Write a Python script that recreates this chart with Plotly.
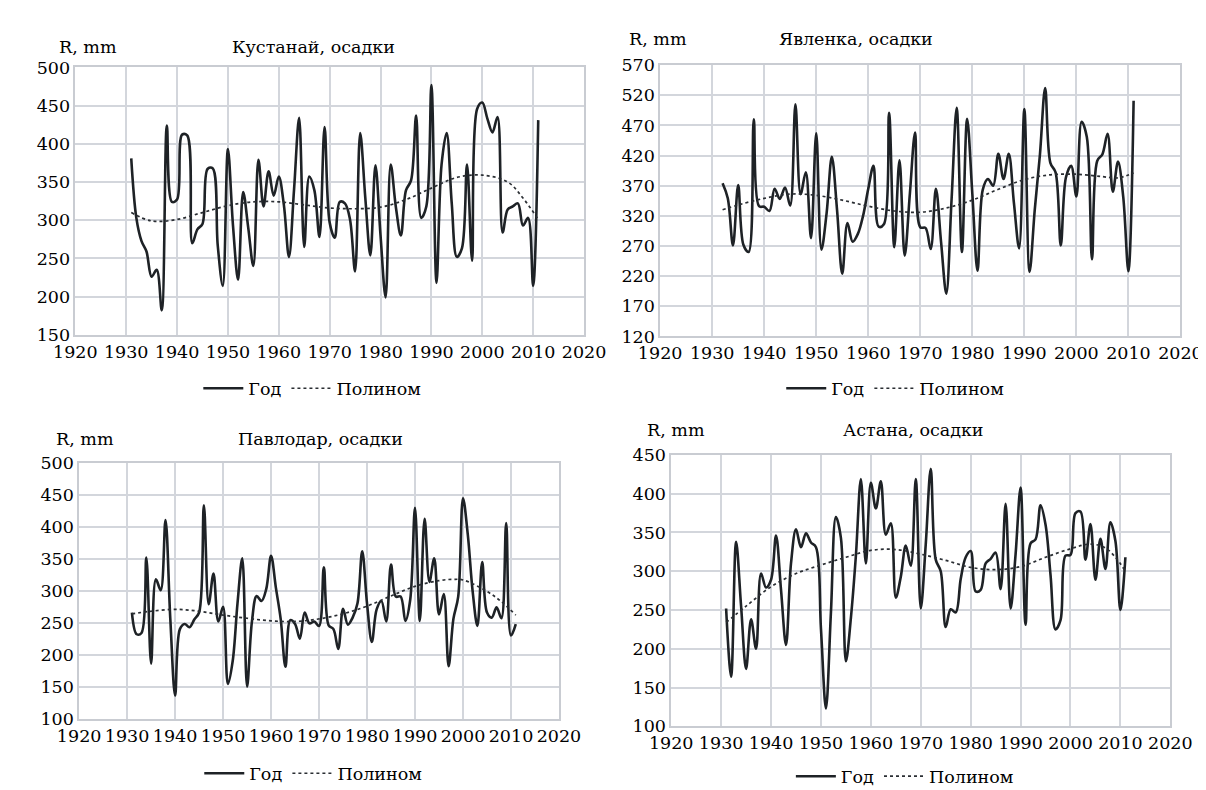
import plotly.graph_objects as go

W, H = 1206, 790
FONT = "DejaVu Serif"
FS = 17.5

# ---------------- data ----------------
years_kustanai = list(range(1931, 2012))
kustanai = [381, 303, 273, 259, 226, 235, 182, 424, 324, 327,
            412, 411, 270, 288, 295, 367, 368, 267, 214, 393,
            293, 222, 337, 290, 240, 379, 318, 364, 332, 357,
            320, 252, 340, 434, 265, 357, 339, 278, 422, 297,
            277, 324, 322, 301, 233, 414, 330, 254, 372, 280,
            199, 373, 318, 280, 339, 352, 437, 303, 318, 477,
            218, 373, 414, 322, 252, 263, 373, 247, 446, 454,
            433, 415, 435, 284, 314, 318, 322, 293, 303, 214,
            431]
trend_years_kustanai = [1931, 1935, 1940, 1945, 1950, 1955, 1960, 1965, 1970,
                        1975, 1980, 1985, 1990, 1995, 2000, 2005, 2008, 2011]
trend_kustanai = [310, 299, 301, 310, 319, 324, 324, 320, 316,
                  315, 317, 327, 342, 356, 359, 350, 329, 301]

years_yavlenka = list(range(1932, 2012))
yavlenka = [374, 349, 271, 371, 272, 260, 480, 336, 335,
            328, 365, 348, 367, 337, 505, 356, 392, 283, 457,
            264, 325, 418, 330, 224, 308, 277, 290, 320, 365,
            403, 302, 306, 491, 268, 412, 254, 357, 458, 301,
            300, 265, 365, 276, 191, 345, 499, 260, 481, 357,
            229, 363, 381, 370, 423, 381, 423, 341, 266, 497,
            227, 330, 422, 532, 408, 392, 271, 384, 403, 352,
            476, 451, 248, 411, 422, 456, 360, 410, 352, 228,
            511]
trend_years_yavlenka = [1932, 1935, 1940, 1945, 1950, 1955, 1960, 1965, 1970,
                        1975, 1980, 1985, 1990, 1995, 2000, 2005, 2008, 2011]
trend_yavlenka = [330, 338, 349, 356, 354, 346, 336, 328, 326,
                  333, 346, 364, 380, 388, 389, 385, 383, 391]

years_pavlodar = list(range(1931, 2012))
pavlodar = [266, 232, 234, 352, 186, 318, 301, 411, 256, 136,
            240, 248, 243, 255, 266, 434, 279, 327, 252, 275,
            154, 190, 280, 351, 150, 251, 292, 284, 303, 355,
            305, 256, 181, 254, 248, 225, 266, 249, 252, 245,
            337, 246, 240, 209, 272, 247, 258, 280, 362, 280,
            220, 271, 284, 252, 341, 291, 291, 253, 286, 430,
            253, 413, 314, 351, 263, 295, 182, 256, 291, 445,
            388, 300, 245, 345, 266, 258, 274, 257, 406, 230,
            248]
trend_years_pavlodar = [1931, 1935, 1940, 1945, 1950, 1955, 1960, 1965, 1970, 1975,
                        1980, 1985, 1990, 1995, 1998, 2000, 2005, 2008, 2011]
trend_pavlodar = [264, 268, 271, 268, 262, 257, 253, 252, 256, 264,
                  276, 292, 307, 316, 318, 317, 299, 283, 262]

years_astana = list(range(1931, 2012))
astana = [252, 164, 338, 255, 174, 238, 200, 297, 279, 289,
          346, 276, 205, 310, 354, 331, 349, 337, 331, 226,
          123, 247, 370, 343, 184, 240, 320, 419, 310, 414,
          381, 416, 347, 362, 266, 293, 333, 307, 419, 252,
          335, 432, 315, 300, 228, 251, 247, 290, 318, 326,
          274, 276, 310, 316, 324, 277, 387, 252, 322, 408,
          231, 336, 341, 385, 360, 295, 225, 237, 320, 321,
          375, 377, 315, 361, 289, 342, 303, 363, 339, 250,
          318]
trend_years_astana = [1931, 1935, 1940, 1945, 1950, 1955, 1960, 1965, 1970, 1975,
                      1980, 1985, 1990, 1995, 2000, 2004, 2007, 2009, 2011]
trend_astana = [234, 255, 280, 297, 308, 318, 327, 328, 322, 314,
                305, 302, 306, 318, 329, 335, 330, 318, 300]

titles = ["Кустанай, осадки", "Явленка, осадки", "Павлодар, осадки", "Астана, осадки"]
y_label = "R, mm"
series_names = ["Год", "Полином"]
x_ticks = list(range(1920, 2021, 10))
y_ranges = [(150, 500), (120, 570), (100, 500), (100, 450)]

# ---------------- layout geometry (pixels) ----------------
panels = [
    dict(x=(47, 575), y=(50.7, 325), title=(294, 30), ylab=(60, 30), legend=(293, 380)),
    dict(x=(654, 1194), y=(48.3, 326.7), title=(857, 22), ylab=(652, 22), legend=(898, 380)),
    dict(x=(51, 549), y=(456.7, 718.7), title=(302, 432), ylab=(57, 432), legend=(294, 775)),
    dict(x=(665.5, 1183.5), y=(448.3, 726.7), title=(917, 423), ylab=(670, 423), legend=(908, 778)),
]

data_sets = [
    (years_kustanai, kustanai, trend_years_kustanai, trend_kustanai),
    (years_yavlenka, yavlenka, trend_years_yavlenka, trend_yavlenka),
    (years_pavlodar, pavlodar, trend_years_pavlodar, trend_pavlodar),
    (years_astana, astana, trend_years_astana, trend_astana),
]

GRID = "#d3d6dc"
LINE = "#1e2226"

fig = go.Figure()
layout = dict(
    width=W, height=H, margin=dict(l=0, r=0, t=0, b=0),
    paper_bgcolor="white", plot_bgcolor="white",
    font=dict(family=FONT, size=FS, color="black"),
    annotations=[],
)

for i, (p, (yrs, vals, tyrs, tvals)) in enumerate(zip(panels, data_sets)):
    n = "" if i == 0 else str(i + 1)
    xa, ya = "x" + n, "y" + n
    lg = "legend" + n
    fig.add_trace(go.Scatter(
        x=yrs, y=vals, mode="lines", name=series_names[0],
        line=dict(color=LINE, width=2.6, shape="spline", smoothing=1.0),
        xaxis=xa, yaxis=ya, legend=lg, hoverinfo="skip"))
    fig.add_trace(go.Scatter(
        x=tyrs, y=tvals, mode="lines", name=series_names[1],
        line=dict(color="#2a2e33", width=1.7, dash="3px,3px", shape="spline", smoothing=1.0),
        xaxis=xa, yaxis=ya, legend=lg, hoverinfo="skip"))

    x0, x1 = p["x"]
    y0, y1 = p["y"]
    ylo, yhi = y_ranges[i]
    layout["xaxis" + n] = dict(
        domain=[x0 / W, x1 / W], anchor=ya, range=[1920, 2020],
        tickmode="array", tickvals=x_ticks, ticktext=[str(t) for t in x_ticks],
        showgrid=True, gridcolor=GRID, gridwidth=1.5,
        showline=True, linecolor="#c9ccd2", linewidth=2, mirror=True,
        zeroline=False, ticks="", tickfont=dict(family=FONT, size=FS, color="black"),
        fixedrange=True)
    layout["yaxis" + n] = dict(
        domain=[1 - y1 / H, 1 - y0 / H], anchor=xa, range=[ylo, yhi],
        tick0=ylo, dtick=50,
        showgrid=True, gridcolor=GRID, gridwidth=1.5,
        showline=True, linecolor="#c9ccd2", linewidth=1.5, mirror=True,
        zeroline=False, ticks="", tickfont=dict(family=FONT, size=FS, color="black"),
        fixedrange=True)
    lx, ly = p["legend"]
    layout[lg] = dict(
        x=lx / W, y=1 - ly / H, xanchor="center", yanchor="middle",
        orientation="h", bgcolor="rgba(0,0,0,0)", traceorder="normal",
        font=dict(family=FONT, size=FS, color="black"), itemwidth=40)
    tx, ty = p["title"]
    layout["annotations"].append(dict(
        text=titles[i], x=tx / W, y=1 - ty / H, xref="paper", yref="paper",
        showarrow=False, xanchor="center", yanchor="middle",
        font=dict(family=FONT, size=FS, color="black")))
    rx, ry = p["ylab"]
    layout["annotations"].append(dict(
        text=y_label, x=rx / W, y=1 - ry / H, xref="paper", yref="paper",
        showarrow=False, xanchor="center", yanchor="middle",
        font=dict(family=FONT, size=FS, color="black")))

fig.update_layout(**layout)
fig.write_html("out.html")
